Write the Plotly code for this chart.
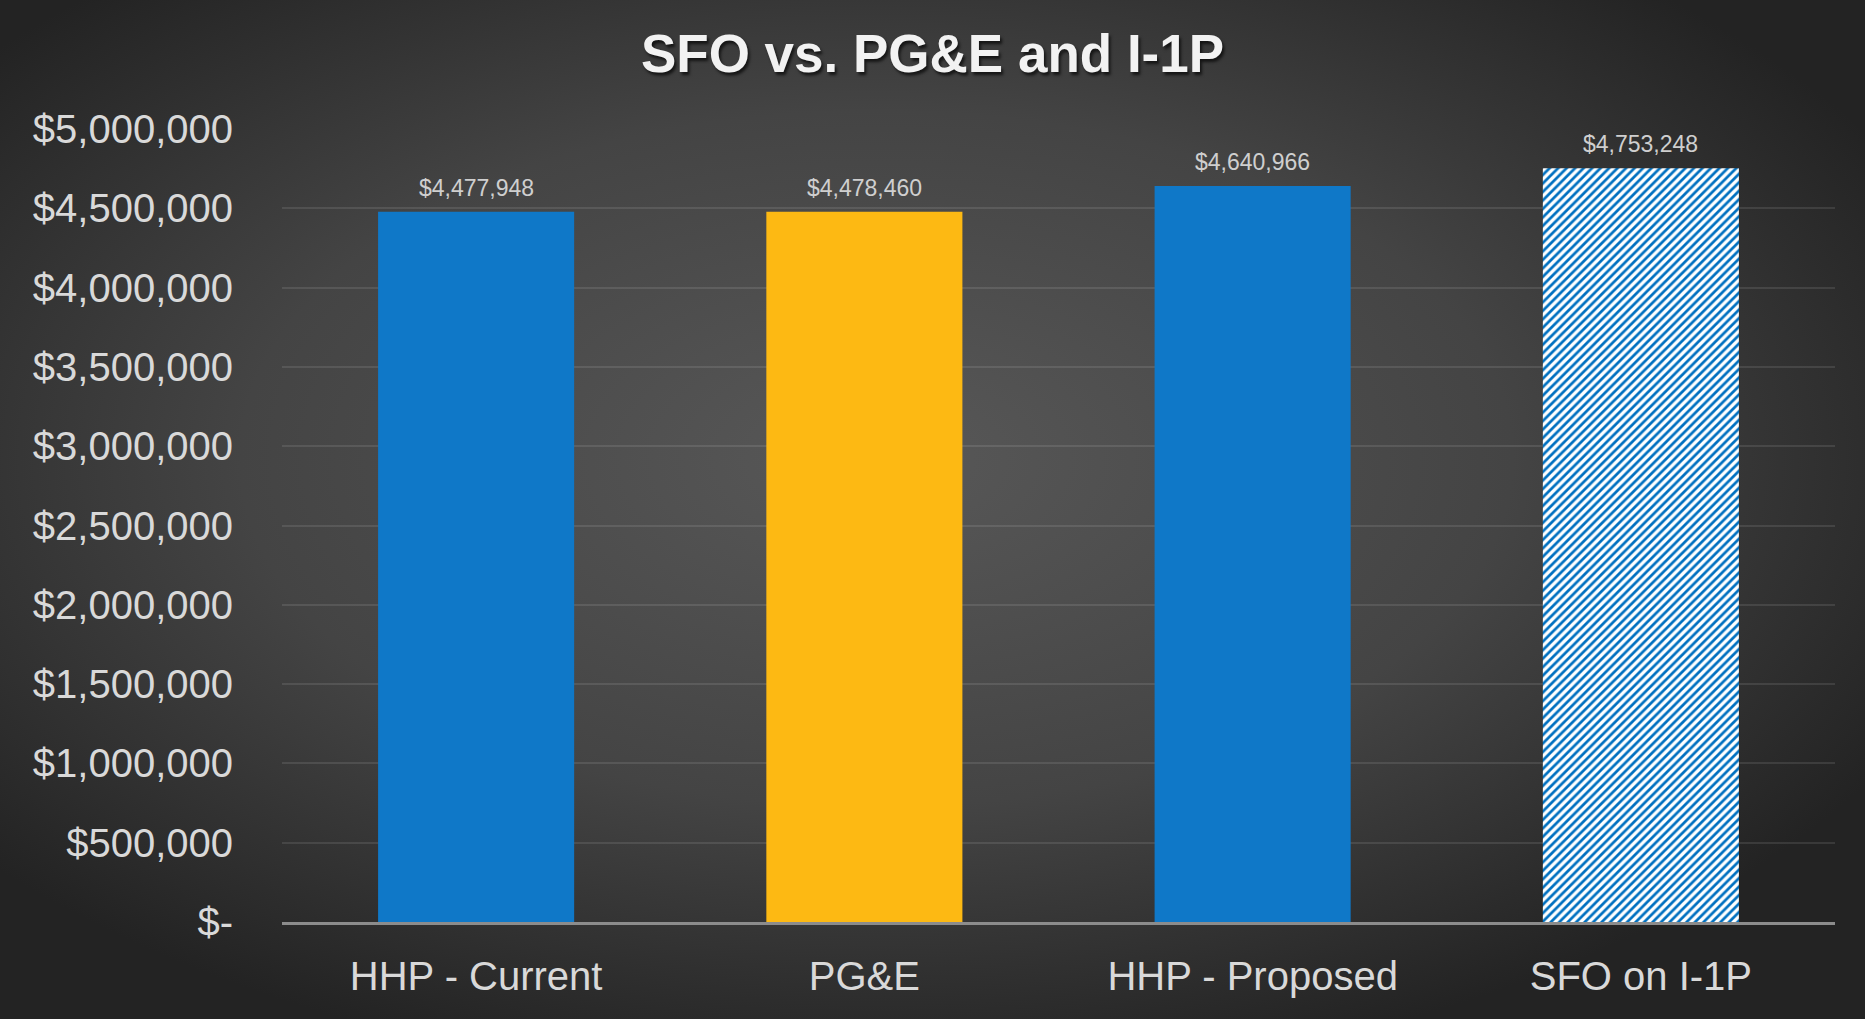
import base64
import plotly.graph_objects as go

# ---- data ----
categories = ["HHP - Current", "PG&E", "HHP - Proposed", "SFO on I-1P"]
values = [4477948, 4478460, 4640966, 4753248]
y_tickvals = [0, 500000, 1000000, 1500000, 2000000, 2500000, 3000000, 3500000, 4000000, 4500000, 5000000]
y_ticktext = ["$-", "$500,000", "$1,000,000", "$1,500,000", "$2,000,000", "$2,500,000",
              "$3,000,000", "$3,500,000", "$4,000,000", "$4,500,000", "$5,000,000"]
title_text = "SFO vs. PG&E and I-1P"

# ---- styles ----
solid_colors = ["#0f78c8", "#fdb913", "#0f78c8"]
hatch_fg, hatch_bg = "#0070c0", "#ffffff"

W, H = 1865, 1019
ML, MR, MT, MB = 282, 30, 129, 97
PW, PH = W - ML - MR, H - MT - MB
FONT = "Liberation Sans, Arial, sans-serif"

svg = f'''<svg xmlns="http://www.w3.org/2000/svg" width="{W}" height="{H}" viewBox="0 0 {W} {H}" preserveAspectRatio="none">
<defs><radialGradient id="g" cx="47%" cy="45%" r="62%">
<stop offset="0%" stop-color="#585858"/><stop offset="55%" stop-color="#444444"/><stop offset="100%" stop-color="#232323"/>
</radialGradient></defs><rect width="{W}" height="{H}" fill="url(#g)"/></svg>'''
bg_uri = "data:image/svg+xml;base64," + base64.b64encode(svg.encode()).decode()

fig = go.Figure()
# solid bars
fig.add_trace(go.Bar(
    x=categories[:3], y=values[:3],
    marker=dict(color=solid_colors, line=dict(width=0)),
    showlegend=False, hoverinfo="x+y",
))
# hatched bar
fig.add_trace(go.Bar(
    x=categories[3:], y=values[3:],
    marker=dict(color=hatch_bg, line=dict(width=0),
                pattern=dict(shape="/", fgcolor=hatch_fg, bgcolor=hatch_bg,
                             size=6, solidity=0.45, fillmode="replace")),
    showlegend=False, hoverinfo="x+y",
))

# value labels above each bar
for c, v in zip(categories, values):
    fig.add_annotation(x=c, y=v, text=f"${v:,.0f}", showarrow=False,
                       xanchor="center", yanchor="bottom", yshift=9,
                       font=dict(family=FONT, size=23, color="#cfcfcf"))

fig.update_layout(
    width=W, height=H,
    margin=dict(l=ML, r=MR, t=MT, b=MB, autoexpand=False),
    paper_bgcolor="#2e2e2e", plot_bgcolor="rgba(0,0,0,0)",
    barmode="overlay", bargap=0.495,
    title=dict(text=title_text, x=0.5, xref="container", xanchor="center",
               y=1 - 53 / H, yref="container", yanchor="middle",
               font=dict(family=FONT, size=53, color="#f2f2f2",
                         weight="bold", shadow="2px 3px 3px rgba(0,0,0,0.65)")),
    images=[dict(source=bg_uri, xref="paper", yref="paper",
                 x=-ML / PW, y=1 + MT / PH, sizex=W / PW, sizey=H / PH,
                 xanchor="left", yanchor="top", sizing="stretch", layer="below")],
    font=dict(family=FONT, color="#d9d9d9"),
)
fig.update_xaxes(
    categoryorder="array", categoryarray=categories,
    showgrid=False, showline=True, linecolor="#8c8c8c", linewidth=2.5,
    ticks="", tickfont=dict(size=40, color="#d9d9d9"), ticklabelstandoff=17,
)
fig.update_yaxes(
    range=[0, 5000000], tickvals=y_tickvals, ticktext=y_ticktext,
    showgrid=True, gridcolor="rgba(255,255,255,0.10)", gridwidth=1.5,
    zeroline=False, showline=False, ticks="",
    tickfont=dict(size=40, color="#d9d9d9"), ticklabelstandoff=48,
)

fig.write_html("out.html", config={"displayModeBar": False},
               post_script="document.body.style.margin='0';document.body.style.overflow='hidden';")
